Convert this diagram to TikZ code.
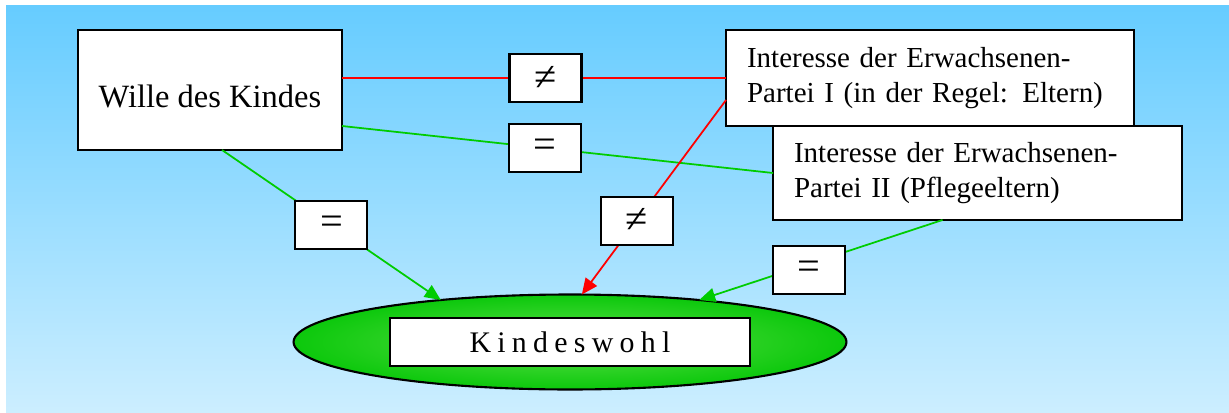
\documentclass[tikz,border=0pt]{standalone}
\usepackage{fontspec}
\setmainfont{Liberation Serif}
\newfontfamily\spacedfont[LetterSpace=21]{Liberation Serif}
\usetikzlibrary{arrows.meta,shapes.geometric}
\definecolor{skytop}{HTML}{66CCFF}
\definecolor{skybottom}{HTML}{CCEEFF}
\definecolor{lawn}{HTML}{00CC00}
\definecolor{lawnlight}{HTML}{5EE04A}
\definecolor{lawndark}{HTML}{0CC80C}

\begin{document}
\begin{tikzpicture}[x=0.02cm,y=-0.02cm,
    box/.style={draw=black,line width=1.2pt,fill=white,text=black,outer sep=0pt},
    big/.style={box,minimum width=5.28cm,minimum height=2.4cm,font=\fontsize{18.5}{21}\selectfont},
    party/.style={box,inner xsep=0.42cm,align=left,font=\fontsize{16.5}{19.9}\selectfont},
    sign/.style={box,minimum width=1.44cm,minimum height=0.96cm,inner sep=0pt,font=\fontsize{23}{24}\selectfont},
    con/.style={line width=1pt},
    arr/.style={con,-{Triangle[length=0.32cm,width=0.28cm]}}
    ]
    \useasboundingbox (0,0) rectangle (1229,412);
    \shade[top color=skytop,bottom color=skybottom] (6,6) rectangle (1229,412);

    \node[big] (wille) at (210,90) {\raisebox{-0.12cm}[\height][\depth]{Wille des Kindes}};
    \node[party,text width=7.32cm,minimum height=1.92cm] (partone) at (930,78) {Interesse der Erwachsenen-\\Partei I (in der Regel: Eltern)};
    \node[party,text width=7.34cm,minimum height=1.88cm] (parttwo) at (977.5,173) {Interesse der Erwachsenen-\\Partei II (Pflegeeltern)};
    \node[ellipse,draw=black,line width=1.2pt,inner color=lawnlight,outer color=lawndark,minimum width=11.06cm,minimum height=1.9cm,outer sep=0pt] (wohlfeld) at (570,342) {};
    \node[box,minimum width=7.2cm,minimum height=0.96cm,font={\spacedfont\fontsize{17}{20}\selectfont}] (wohl) at (570,342) {Kindeswohl};

    \draw[con,red] (wille.east |- partone.west) -- node[sign,pos=0.53] (neone) {≠} (partone.west);
    \draw[con,lawn] ([yshift=-0.72cm]wille.east) -- node[sign,pos=0.47] (eqone) {=} (parttwo.west);
    \draw[arr,lawn] ([xshift=0.24cm]wille.south) -- node[sign,pos=0.5] (eqtwo) {=} (wohlfeld.162);
    \draw[arr,red] ([yshift=-0.44cm]partone.west) -- node[sign,pos=0.62] (netwo) {≠} (wohlfeld.76);
    \draw[arr,lawn] ([xshift=-0.7cm]parttwo.south) -- node[sign,pos=0.55,yshift=-0.12cm] (eqthree) {=} (wohlfeld.18);
\end{tikzpicture}
\end{document}
